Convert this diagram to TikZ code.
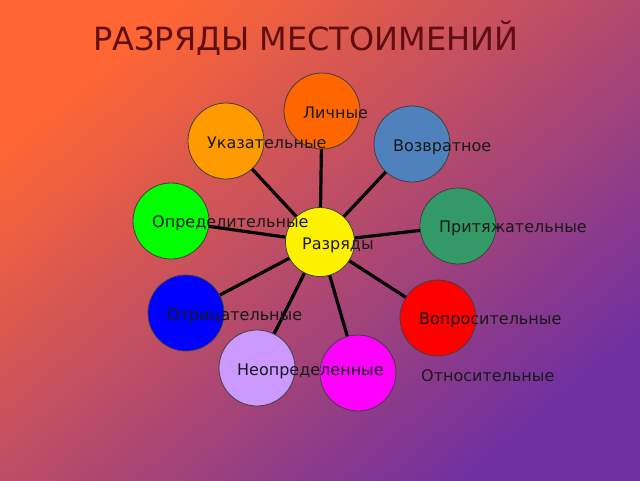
\documentclass[tikz,border=0pt]{standalone}
\usepackage{fontspec}
\setmainfont{DejaVu Sans}
\definecolor{bgtop}{RGB}{255,102,51}
\definecolor{bgbot}{RGB}{112,48,160}
\definecolor{titlered}{RGB}{96,14,16}
\definecolor{lichcol}{RGB}{255,102,0}
\definecolor{ukazcol}{RGB}{255,153,0}
\definecolor{vozvcol}{RGB}{79,129,189}
\definecolor{opredcol}{RGB}{0,255,0}
\definecolor{pritcol}{RGB}{51,153,102}
\definecolor{violcol}{RGB}{204,153,255}
\definecolor{magcol}{RGB}{255,0,255}

\begin{document}
\begin{tikzpicture}[x=1pt,y=-1pt,
				pronoun/.style={circle,minimum size=76pt,inner sep=0pt,draw=black!75,line width=0.8pt},
				rtext/.style={anchor=base west,inner sep=0pt,text=black!90,font=\fontsize{16}{19}\selectfont},
				spoke/.style={line width=3.2pt,black}]

				\useasboundingbox (0,0) rectangle (640,480);
				\shade [top color=bgtop,bottom color=bgbot,shading angle=40] (0,0) rectangle (640,480);

				\node (title) [anchor=base west,inner sep=0pt,text=titlered,font=\fontsize{32}{38}\selectfont] at (93,50) {РАЗРЯДЫ МЕСТОИМЕНИЙ};

				% circles
				\node (razr)  [pronoun,minimum size=69pt,fill=yellow] at (320,242) {};
				\node (lichn) [pronoun,fill=lichcol]  at (322,111) {};
				\node (ukaz)  [pronoun,fill=ukazcol]  at (226,141) {};
				\node (vozvr) [pronoun,fill=vozvcol]  at (412,144) {};
				\node (opred) [pronoun,fill=opredcol] at (171,221) {};
				\node (prit)  [pronoun,fill=pritcol]  at (458,226) {};
				\node (otric) [pronoun,fill=blue]     at (186,313) {};
				\node (vopr)  [pronoun,fill=red]      at (438,318) {};
				\node (neopr) [pronoun,fill=violcol]  at (257,368) {};
				\node (otnos) [pronoun,fill=magcol]   at (358,373) {};

				\draw [spoke] (razr)--(lichn);
				\draw [spoke] (razr)--(ukaz);
				\draw [spoke] (razr)--(vozvr);
				\draw [spoke] (razr)--(opred);
				\draw [spoke] (razr)--(prit);
				\draw [spoke] (razr)--(otric);
				\draw [spoke] (razr)--(vopr);
				\draw [spoke] (razr)--(neopr);
				\draw [spoke] (razr)--(otnos);

				% labels
				\node (razrT)  [rtext] at (302,249) {Разряды};
				\node (lichnT) [rtext] at (303,118) {Личные};
				\node (ukazT)  [rtext] at (207,148) {Указательные};
				\node (vozvrT) [rtext] at (393,151) {Возвратное};
				\node (opredT) [rtext] at (152,227) {Определительные};
				\node (pritT)  [rtext] at (439,232) {Притяжательные};
				\node (otricT) [rtext] at (167,320) {Отрицательные};
				\node (voprT)  [rtext] at (419,324) {Вопросительные};
				\node (neoprT) [rtext] at (237,375) {Неопределенные};
				\node (otnosT) [rtext] at (421,381) {Относительные};
			\end{tikzpicture}
\end{document}
